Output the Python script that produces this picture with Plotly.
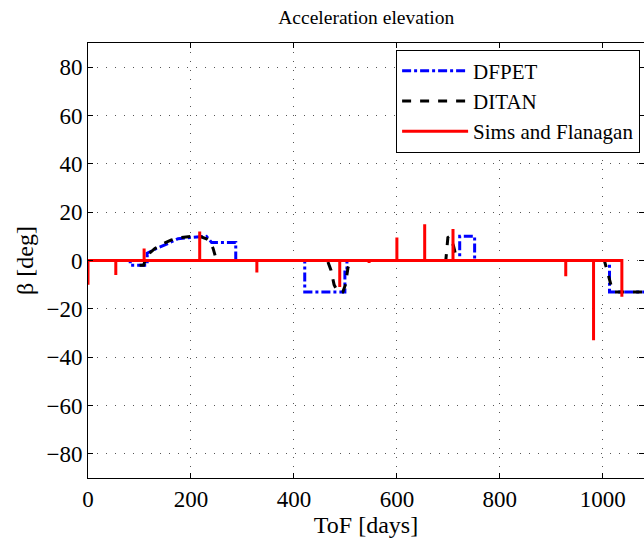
import plotly.graph_objects as go

# ---- data ----
# DFPET (blue dash-dot) breakpoints
dfpet_t = [0, 82, 82, 115, 115, 133, 155, 175, 200, 230, 240, 287, 287,
           421, 421, 499, 499, 503, 503, 722, 722, 751, 751, 1013, 1013, 1085]
dfpet_v = [0, 0, -2, -2, 3, 5, 7, 9, 9.5, 10, 7.5, 7.5, 0,
           0, -13, -13, -4, -4, 0, 0, 10, 10, 0, 0, -13, -13]

# DITAN (black dashed) breakpoints
ditan_t = [0, 90, 97, 108, 114, 130, 146, 162, 179, 200, 217, 230, 237, 243, 247, 252,
           465, 472, 478, 485, 495, 500, 505, 510,
           695, 699, 703, 710, 714, 718,
           1003, 1006, 1012, 1017, 1022, 1085]
ditan_v = [0, 0, -2, -2, 2, 5, 7, 8.5, 9.5, 10, 10, 9, 8, 5, 2, 0,
           0, -4, -10, -13, -13, -10, -3, 0,
           0, 9.5, 10, 6, 2.5, 0,
           0, -2.5, -8, -11, -13, -13]

# Sims and Flanagan (red) spikes
sf_end = 1037
sf_spike_t = [0, 54, 109, 217, 328, 489, 546, 600, 654, 709, 928, 982, 1037]
sf_spike_v = [-10, -6, 5, 12, -5, -11, -1, 9.5, 15, 13, -6.5, -33, -15]

x_ticks = [0, 200, 400, 600, 800, 1000]
y_ticks = [-80, -60, -40, -20, 0, 20, 40, 60, 80]

# build red trace from spikes
sf_t, sf_v = [], []
for t, v in zip(sf_spike_t, sf_spike_v):
    sf_t += [t, t, t]
    sf_v += [0, v, 0]
sf_t.append(sf_end)
sf_v.append(0)

font = "Liberation Serif, Times New Roman, serif"

fig = go.Figure()
fig.add_trace(go.Scatter(x=dfpet_t, y=dfpet_v, mode="lines", name="DFPET",
                         line=dict(color="#0000ff", width=3, dash="dashdot")))
fig.add_trace(go.Scatter(x=ditan_t, y=ditan_v, mode="lines", name="DITAN",
                         line=dict(color="black", width=3, dash="dash")))
fig.add_trace(go.Scatter(x=sf_t, y=sf_v, mode="lines", name="Sims and Flanagan",
                         line=dict(color="#ff0000", width=3)))

fig.update_layout(
    width=644, height=543,
    margin=dict(l=88, r=0, t=43, b=65),
    paper_bgcolor="white", plot_bgcolor="white",
    font=dict(family=font, size=23, color="black"),
    title=dict(text="Acceleration elevation", x=0.5687, xanchor="center",
               y=0.968, yanchor="middle", font=dict(size=19.5)),
    showlegend=True,
    legend=dict(x=0.993, xanchor="right", y=0.985, yanchor="top",
                bordercolor="black", borderwidth=1, bgcolor="white",
                font=dict(size=21), tracegroupgap=0, itemwidth=66),
)
fig.update_xaxes(range=[0, 1080], tickvals=x_ticks, showline=True, mirror="ticks",
                 linecolor="black", linewidth=1, ticks="inside", ticklen=5,
                 tickcolor="black", showgrid=True, gridcolor="#555",
                 griddash="1px,8px", gridwidth=1, zeroline=False,
                 title=dict(text="ToF [days]", standoff=0, font=dict(size=24)))
fig.update_yaxes(range=[-90, 90], tickvals=y_ticks,
                 ticktext=[("\u2212" + str(-v)) if v < 0 else str(v) for v in y_ticks],
                 showline=True, mirror="ticks",
                 linecolor="black", linewidth=1, ticks="inside", ticklen=5,
                 tickcolor="black", showgrid=True, gridcolor="#555",
                 griddash="1px,8px", gridwidth=1, zeroline=False,
                 title=dict(text="\u03b2 [deg]", standoff=6, font=dict(size=24)))

fig.write_html("out.html")
